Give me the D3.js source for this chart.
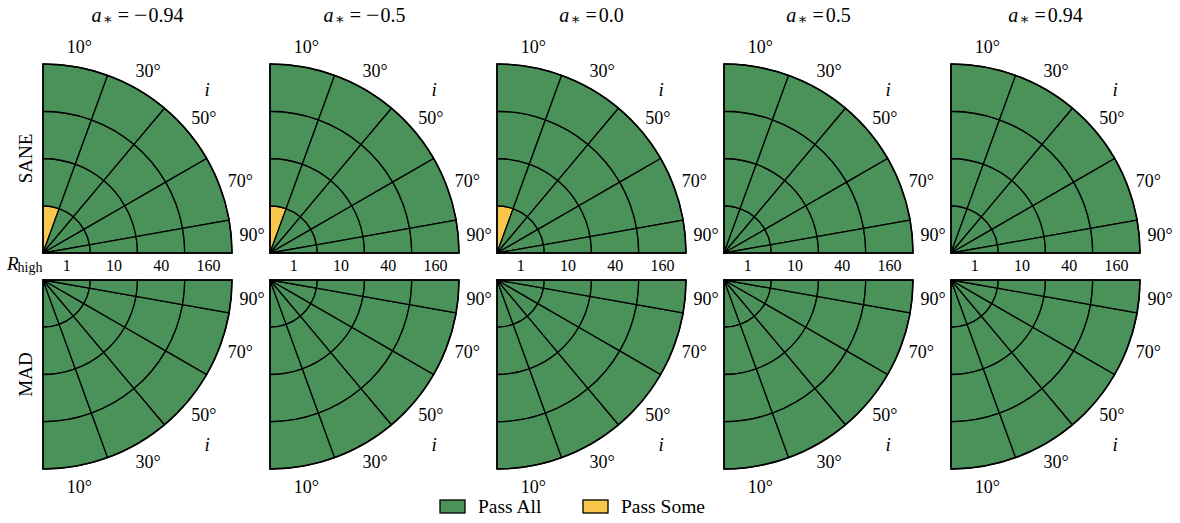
<!DOCTYPE html>
<html>
<head>
<meta charset="utf-8">
<script src="https://cdn.jsdelivr.net/npm/d3@7"></script>
<style>
  html, body { margin: 0; padding: 0; background: #fff; }
  svg { display: block; font-family: "Liberation Serif", "DejaVu Serif", serif; }
</style>
</head>
<body>
<svg id="chart" width="1180" height="523"></svg>
<script>
// ---- data ----
const spins = ["\u22120.94", "\u22120.5", "0.0", "0.5", "0.94"];
const inclinations = [10, 30, 50, 70, 90];
const rhighs = [1, 10, 40, 160];
const models = ["SANE", "MAD"];
const legendLabels = ["Pass All", "Pass Some"];
// status per model, per spin: rows = Rhigh (1,10,40,160), cols = inclination (10..90); 1 = Pass All, 0 = Pass Some
const saneStatus = [
  [[0,1,1,1,1],[1,1,1,1,1],[1,1,1,1,1],[1,1,1,1,1]],
  [[0,1,1,1,1],[1,1,1,1,1],[1,1,1,1,1],[1,1,1,1,1]],
  [[0,1,1,1,1],[1,1,1,1,1],[1,1,1,1,1],[1,1,1,1,1]],
  [[1,1,1,1,1],[1,1,1,1,1],[1,1,1,1,1],[1,1,1,1,1]],
  [[1,1,1,1,1],[1,1,1,1,1],[1,1,1,1,1],[1,1,1,1,1]]
];
const madStatus = [
  [[1,1,1,1,1],[1,1,1,1,1],[1,1,1,1,1],[1,1,1,1,1]],
  [[1,1,1,1,1],[1,1,1,1,1],[1,1,1,1,1],[1,1,1,1,1]],
  [[1,1,1,1,1],[1,1,1,1,1],[1,1,1,1,1],[1,1,1,1,1]],
  [[1,1,1,1,1],[1,1,1,1,1],[1,1,1,1,1],[1,1,1,1,1]],
  [[1,1,1,1,1],[1,1,1,1,1],[1,1,1,1,1],[1,1,1,1,1]]
];

// ---- layout ----
const svg = d3.select("#chart");
const R = 189;
const colX = d3.scalePoint().domain(d3.range(spins.length)).range([43, 951]);
const rowCy = [253, 280];
const colorPass = "#4a925a";
const colorSome = "#f9c74c";
const color = d3.scaleOrdinal().domain([1, 0]).range([colorPass, colorSome]);

const theta = d3.scaleLinear().domain([0, 90]).range([0, Math.PI / 2]);
const rScale = d3.scaleBand().domain(rhighs).range([0, R]).padding(0);

const arc = d3.arc();

function panel(cx, cy, status, flip) {
  const g = svg.append("g").attr("transform", `translate(${cx},${cy})`);
  const toAng = a => flip ? Math.PI - a : a;
  const cells = [];
  rhighs.forEach((rh, ri) => {
    inclinations.forEach((inc, ii) => {
      const lo = Math.max(0, inc - 10), hi = Math.min(90, inc + 10);
      let a0 = toAng(theta(lo)), a1 = toAng(theta(hi));
      cells.push({
        innerRadius: rScale(rh),
        outerRadius: rScale(rh) + rScale.bandwidth(),
        startAngle: Math.min(a0, a1),
        endAngle: Math.max(a0, a1),
        v: status[ri][ii]
      });
    });
  });
  g.selectAll("path.cell").data(cells).join("path")
    .attr("class", "cell")
    .attr("d", d => arc(d))
    .attr("fill", d => color(d.v))
    .attr("stroke", "#000")
    .attr("stroke-width", 1.3)
    .attr("stroke-linejoin", "round");
  // outer boundary
  g.append("path")
    .attr("d", arc({innerRadius: 0, outerRadius: R,
      startAngle: flip ? Math.PI / 2 : 0, endAngle: flip ? Math.PI : Math.PI / 2}))
    .attr("fill", "none").attr("stroke", "#000").attr("stroke-width", 1.6);

  // angular labels at sector centers
  const labR = 210;
  inclinations.forEach(inc => {
    const lo = Math.max(0, inc - 10), hi = Math.min(90, inc + 10);
    const a = toAng(theta((lo + hi) / 2));
    g.append("text")
      .attr("x", labR * Math.sin(a))
      .attr("y", -labR * Math.cos(a))
      .attr("dy", "0.35em")
      .attr("text-anchor", "middle")
      .attr("font-size", 18)
      .text(inc + "\u00b0");
  });
  const ai = toAng(theta(45));
  g.append("text")
    .attr("x", 232 * Math.sin(ai))
    .attr("y", -232 * Math.cos(ai))
    .attr("dy", "0.35em")
    .attr("text-anchor", "middle")
    .attr("font-size", 19)
    .attr("font-style", "italic")
    .text("i");
  return g;
}

spins.forEach((s, ci) => {
  const cx = colX(ci);
  panel(cx, rowCy[0], saneStatus[ci], false);
  panel(cx, rowCy[1], madStatus[ci], true);

  // title
  const neg = s.startsWith("\u2212");
  const t = svg.append("text")
    .attr("x", cx + R / 2).attr("y", 22)
    .attr("text-anchor", "middle")
    .attr("font-size", 20);
  t.append("tspan").attr("font-style", "italic").text("a");
  t.append("tspan").attr("font-size", 15).attr("dy", 2).attr("dx", 1).text("\u2217");
  t.append("tspan").attr("dy", -2).attr("dx", 5).text("=");
  if (neg) {
    t.append("tspan").attr("dx", 5).attr("font-size", 24).attr("dy", 1).text("\u2212");
    t.append("tspan").attr("dx", 1).attr("dy", -1).text(s.slice(1));
  } else {
    t.append("tspan").attr("dx", 2).text(s);
  }

  // Rhigh tick labels
  rhighs.forEach(rh => {
    svg.append("text")
      .attr("x", cx + rScale(rh) + rScale.bandwidth() / 2)
      .attr("y", 271)
      .attr("text-anchor", "middle")
      .attr("font-size", 16)
      .text(rh);
  });
});

// R_high label
const rl = svg.append("text").attr("x", 7).attr("y", 270).attr("font-size", 19);
rl.append("tspan").attr("font-style", "italic").text("R");
rl.append("tspan").attr("font-size", 14).attr("dy", 2).attr("dx", -1).text("high");

// row labels
models.forEach((m, mi) => {
  const cy = mi === 0 ? rowCy[0] - R / 2 : rowCy[1] + R / 2;
  svg.append("text")
    .attr("transform", `translate(32,${cy}) rotate(-90)`)
    .attr("text-anchor", "middle")
    .attr("font-size", 19)
    .text(m);
});

// legend
const legend = svg.append("g");
const legX = [440, 583];
legendLabels.forEach((lab, i) => {
  legend.append("rect")
    .attr("x", legX[i]).attr("y", 500)
    .attr("width", 25).attr("height", 13)
    .attr("fill", color(i === 0 ? 1 : 0))
    .attr("stroke", "#000").attr("stroke-width", 1.3);
  legend.append("text")
    .attr("x", legX[i] + 38).attr("y", 513)
    .attr("font-size", 19.5)
    .text(lab);
});
</script>
</body>
</html>
